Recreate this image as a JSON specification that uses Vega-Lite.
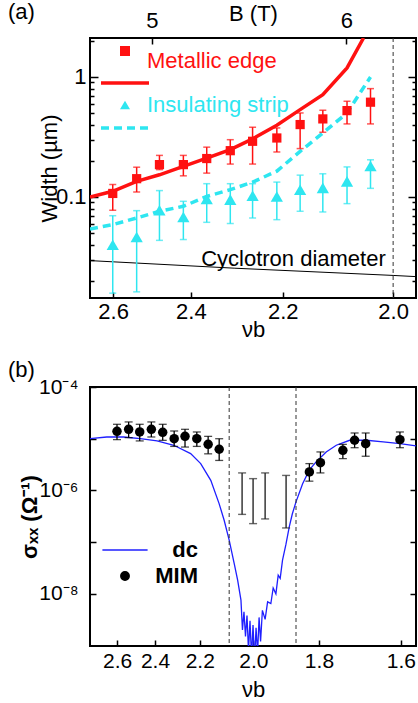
{
  "$schema": "https://vega.github.io/schema/vega-lite/v6.json",
  "padding": {"left": 7, "top": 0, "right": 0, "bottom": 0},
  "spacing": 17,
  "align": "each",
  "config": {
    "font": "Liberation Sans",
    "view": {"stroke": "black", "strokeWidth": 2},
    "axis": {"domain": false, "grid": false, "labelFont": "Liberation Sans", "labelFontSize": 22, "labelColor": "black", "titleFont": "Liberation Sans", "titleFontSize": 22, "titleFontWeight": "normal", "titleColor": "black", "tickColor": "black", "tickWidth": 1.5, "labelOverlap": false, "labelFlush": false},
    "legend": {"padding": 0, "labelFont": "Liberation Sans", "labelLimit": 400},
    "title": {"font": "Liberation Sans", "fontSize": 22, "fontWeight": "normal", "color": "black"}
  },
  "datasets": {
    "pts": [
      {"series": "Metallic edge", "nu": 2.601, "B": 4.798, "w": 0.107, "lo": 0.0775, "hi": 0.127},
      {"series": "Metallic edge", "nu": 2.536, "B": 4.919, "w": 0.142, "lo": 0.110, "hi": 0.177},
      {"series": "Metallic edge", "nu": 2.477, "B": 5.039, "w": 0.186, "lo": 0.169, "hi": 0.222},
      {"series": "Metallic edge", "nu": 2.418, "B": 5.160, "w": 0.186, "lo": 0.150, "hi": 0.222},
      {"series": "Metallic edge", "nu": 2.363, "B": 5.280, "w": 0.209, "lo": 0.158, "hi": 0.260},
      {"series": "Metallic edge", "nu": 2.310, "B": 5.401, "w": 0.243, "lo": 0.188, "hi": 0.300},
      {"series": "Metallic edge", "nu": 2.262, "B": 5.522, "w": 0.291, "lo": 0.188, "hi": 0.381},
      {"series": "Metallic edge", "nu": 2.212, "B": 5.642, "w": 0.310, "lo": 0.237, "hi": 0.376},
      {"series": "Metallic edge", "nu": 2.166, "B": 5.763, "w": 0.401, "lo": 0.253, "hi": 0.501},
      {"series": "Metallic edge", "nu": 2.123, "B": 5.883, "w": 0.447, "lo": 0.346, "hi": 0.528},
      {"series": "Metallic edge", "nu": 2.079, "B": 6.004, "w": 0.524, "lo": 0.406, "hi": 0.627},
      {"series": "Metallic edge", "nu": 2.038, "B": 6.125, "w": 0.616, "lo": 0.406, "hi": 0.799},
      {"series": "Insulating strip", "nu": 2.601, "w": 0.0400, "lo": 0.0158, "hi": 0.0698},
      {"series": "Insulating strip", "nu": 2.536, "w": 0.0464, "lo": 0.0162, "hi": 0.0769},
      {"series": "Insulating strip", "nu": 2.477, "w": 0.0775, "lo": 0.0435, "hi": 0.113},
      {"series": "Insulating strip", "nu": 2.418, "w": 0.0681, "lo": 0.0442, "hi": 0.092},
      {"series": "Insulating strip", "nu": 2.363, "w": 0.0962, "lo": 0.0615, "hi": 0.129},
      {"series": "Insulating strip", "nu": 2.310, "w": 0.095, "lo": 0.0601, "hi": 0.129},
      {"series": "Insulating strip", "nu": 2.262, "w": 0.1025, "lo": 0.0668, "hi": 0.129},
      {"series": "Insulating strip", "nu": 2.212, "w": 0.101, "lo": 0.0647, "hi": 0.133},
      {"series": "Insulating strip", "nu": 2.166, "w": 0.115, "lo": 0.076, "hi": 0.152},
      {"series": "Insulating strip", "nu": 2.123, "w": 0.119, "lo": 0.075, "hi": 0.156},
      {"series": "Insulating strip", "nu": 2.079, "w": 0.135, "lo": 0.088, "hi": 0.178},
      {"series": "Insulating strip", "nu": 2.038, "w": 0.181, "lo": 0.118, "hi": 0.204}
    ],
    "fitM": [
      {"nu": 2.666, "w": 0.100}, {"nu": 2.601, "w": 0.1115}, {"nu": 2.536, "w": 0.135}, {"nu": 2.477, "w": 0.153},
      {"nu": 2.418, "w": 0.180}, {"nu": 2.363, "w": 0.211}, {"nu": 2.310, "w": 0.248}, {"nu": 2.262, "w": 0.305},
      {"nu": 2.212, "w": 0.396}, {"nu": 2.166, "w": 0.534}, {"nu": 2.123, "w": 0.712}, {"nu": 2.079, "w": 1.19},
      {"nu": 2.050, "w": 2.11}
    ],
    "fitI": [
      {"nu": 2.666, "w": 0.0541}, {"nu": 2.601, "w": 0.0588}, {"nu": 2.536, "w": 0.0668}, {"nu": 2.477, "w": 0.076},
      {"nu": 2.418, "w": 0.0836}, {"nu": 2.363, "w": 0.101}, {"nu": 2.310, "w": 0.115}, {"nu": 2.262, "w": 0.133},
      {"nu": 2.212, "w": 0.164}, {"nu": 2.166, "w": 0.240}, {"nu": 2.123, "w": 0.341}, {"nu": 2.079, "w": 0.501},
      {"nu": 2.038, "w": 1.0}
    ],
    "cyc": [
      {"nu": 2.666, "w": 0.0295}, {"nu": 2.3, "w": 0.0255}, {"nu": 2.0, "w": 0.0222}, {"nu": 1.963, "w": 0.0217}
    ],
    "txtA": [{"nu": 2.179, "w": 0.0304, "label": "Cyclotron diameter"}],
    "ruleA": [{"nu": 2.0}],
    "ruleB": [{"nu": 2.0855}, {"nu": 1.8653}],
    "mim": [
      {"kind": "MIM", "nu": 2.601, "s": 1.39e-5, "lo": 9.6e-6, "hi": 1.90e-5},
      {"kind": "MIM", "nu": 2.536, "s": 1.52e-5, "lo": 1.05e-5, "hi": 2.11e-5},
      {"kind": "MIM", "nu": 2.477, "s": 1.35e-5, "lo": 9.06e-6, "hi": 1.90e-5},
      {"kind": "MIM", "nu": 2.418, "s": 1.52e-5, "lo": 1.08e-5, "hi": 2.11e-5},
      {"kind": "MIM", "nu": 2.363, "s": 1.33e-5, "lo": 9.3e-6, "hi": 1.90e-5},
      {"kind": "MIM", "nu": 2.310, "s": 1.0e-5, "lo": 7.1e-6, "hi": 1.41e-5},
      {"kind": "MIM", "nu": 2.262, "s": 1.11e-5, "lo": 6.9e-6, "hi": 1.52e-5},
      {"kind": "MIM", "nu": 2.212, "s": 1.0e-5, "lo": 7.1e-6, "hi": 1.35e-5},
      {"kind": "MIM", "nu": 2.166, "s": 7.8e-6, "lo": 5.1e-6, "hi": 1.11e-5},
      {"kind": "MIM", "nu": 2.123, "s": 6.25e-6, "lo": 3.8e-6, "hi": 1.0e-5},
      {"kind": "MIM", "nu": 1.8267, "s": 2.28e-6, "lo": 1.51e-6, "hi": 3.3e-6},
      {"kind": "MIM", "nu": 1.7960, "s": 3.44e-6, "lo": 2.18e-6, "hi": 5.55e-6},
      {"kind": "MIM", "nu": 1.7367, "s": 5.97e-6, "lo": 4.12e-6, "hi": 7.8e-6},
      {"kind": "MIM", "nu": 1.7072, "s": 9.33e-6, "lo": 6.7e-6, "hi": 1.29e-5},
      {"kind": "MIM", "nu": 1.6803, "s": 8.03e-6, "lo": 4.58e-6, "hi": 1.29e-5},
      {"kind": "MIM", "nu": 1.6022, "s": 9.6e-6, "lo": 6.7e-6, "hi": 1.35e-5}
    ],
    "gap": [
      {"nu": 2.039, "lo": 3.44e-7, "hi": 2.18e-6},
      {"nu": 2.001, "lo": 2.28e-7, "hi": 1.69e-6},
      {"nu": 1.961, "lo": 2.81e-7, "hi": 2.18e-6},
      {"nu": 1.895, "lo": 1.88e-7, "hi": 1.95e-6}
    ],
    "dc": [
      {"kind": "dc", "nu": 2.7655, "s": 1.0e-5}, {"kind": "dc", "nu": 2.661, "s": 1.08e-5}, {"kind": "dc", "nu": 2.564, "s": 1.08e-5},
      {"kind": "dc", "nu": 2.474, "s": 1.0e-5}, {"kind": "dc", "nu": 2.390, "s": 9.06e-6}, {"kind": "dc", "nu": 2.3115, "s": 7.47e-6},
      {"kind": "dc", "nu": 2.2379, "s": 5.14e-6}, {"kind": "dc", "nu": 2.196, "s": 3.3e-6}, {"kind": "dc", "nu": 2.1556, "s": 1.57e-6},
      {"kind": "dc", "nu": 2.1233, "s": 5.56e-7}, {"kind": "dc", "nu": 2.1042, "s": 2.65e-7}, {"kind": "dc", "nu": 2.0855, "s": 1.09e-7},
      {"kind": "dc", "nu": 2.0671, "s": 3.85e-8}, {"kind": "dc", "nu": 2.0548, "s": 1.84e-8}, {"kind": "dc", "nu": 2.043, "s": 7.55e-9},
      {"kind": "dc", "nu": 2.0377, "s": 2.0e-9}, {"kind": "dc", "nu": 2.0324, "s": 4.5e-9}, {"kind": "dc", "nu": 2.0271, "s": 1.5e-9},
      {"kind": "dc", "nu": 2.0219, "s": 3.8e-9}, {"kind": "dc", "nu": 2.0167, "s": 8e-10}, {"kind": "dc", "nu": 2.0115, "s": 3.0e-9},
      {"kind": "dc", "nu": 2.0063, "s": 6e-10}, {"kind": "dc", "nu": 2.0012, "s": 2.5e-9}, {"kind": "dc", "nu": 1.9961, "s": 5e-10},
      {"kind": "dc", "nu": 1.9910, "s": 2.2e-9}, {"kind": "dc", "nu": 1.9859, "s": 7e-10}, {"kind": "dc", "nu": 1.9809, "s": 3.5e-9},
      {"kind": "dc", "nu": 1.9759, "s": 1.2e-9}, {"kind": "dc", "nu": 1.9699, "s": 4.8e-9}, {"kind": "dc", "nu": 1.9610, "s": 3.2e-9},
      {"kind": "dc", "nu": 1.9529, "s": 7.0e-9}, {"kind": "dc", "nu": 1.9425, "s": 6.5e-9}, {"kind": "dc", "nu": 1.9351, "s": 1.3e-8},
      {"kind": "dc", "nu": 1.9265, "s": 1.0e-8}, {"kind": "dc", "nu": 1.9193, "s": 2.3e-8}, {"kind": "dc", "nu": 1.9131, "s": 2.0e-8},
      {"kind": "dc", "nu": 1.9059, "s": 4.5e-8}, {"kind": "dc", "nu": 1.8955, "s": 9e-8}, {"kind": "dc", "nu": 1.8854, "s": 1.97e-7},
      {"kind": "dc", "nu": 1.8763, "s": 3.5e-7}, {"kind": "dc", "nu": 1.8653, "s": 6.0e-7}, {"kind": "dc", "nu": 1.8460, "s": 1.35e-6},
      {"kind": "dc", "nu": 1.8267, "s": 2.49e-6}, {"kind": "dc", "nu": 1.8078, "s": 3.56e-6}, {"kind": "dc", "nu": 1.7804, "s": 5.55e-6},
      {"kind": "dc", "nu": 1.7537, "s": 7.47e-6}, {"kind": "dc", "nu": 1.7195, "s": 9.33e-6}, {"kind": "dc", "nu": 1.6785, "s": 9.33e-6},
      {"kind": "dc", "nu": 1.6395, "s": 8.65e-6}, {"kind": "dc", "nu": 1.6021, "s": 8.0e-6}, {"kind": "dc", "nu": 1.5679, "s": 7.24e-6}
    ]
  },
  "vconcat": [
    {
      "width": 326,
      "height": 260,
      "title": {"text": "(a)", "anchor": "start", "frame": "group", "dx": -82, "dy": 22, "offset": 0},
      "layer": [
        {
          "layer": [
            {
              "data": {"name": "cyc"},
              "mark": {"type": "line", "color": "black", "strokeWidth": 1, "clip": true},
              "encoding": {
                "x": {"field": "nu", "type": "quantitative",
                  "scale": {"type": "pow", "exponent": -1, "domain": [2.666, 1.963], "nice": false, "zero": false},
                  "axis": {"orient": "bottom", "values": [2.6, 2.4, 2.2, 2.0], "format": ".1f", "tickSize": -6, "labelPadding": 9, "title": "νb", "titlePadding": -3}},
                "y": {"field": "w", "type": "quantitative", "title": "Width (µm)",
                  "scale": {"type": "log", "domain": [0.0144, 2.11], "nice": false},
                  "axis": {"orient": "left", "values": [0.02, 0.03, 0.04, 0.05, 0.06, 0.07, 0.08, 0.09, 0.1, 0.2, 0.3, 0.4, 0.5, 0.6, 0.7, 0.8, 0.9, 1, 2],
                    "labelExpr": "datum.value == 1 ? '1' : datum.value == 0.1 ? '0.1' : ''",
                    "tickSize": {"condition": {"test": "datum.value == 1 || datum.value == 0.1", "value": -8}, "value": -4},
                    "labelPadding": 12, "title": "Width (µm)", "titlePadding": -6}}
              }
            },
            {
              "data": {"name": "fitM"},
              "mark": {"type": "line", "color": "#ff1111", "strokeWidth": 3.5, "clip": true},
              "encoding": {"x": {"field": "nu", "type": "quantitative"}, "y": {"field": "w", "type": "quantitative", "title": "Width (µm)"}}
            },
            {
              "data": {"name": "fitI"},
              "mark": {"type": "line", "color": "#2ee6f0", "strokeWidth": 3.5, "strokeDash": [8, 5], "clip": true},
              "encoding": {"x": {"field": "nu", "type": "quantitative"}, "y": {"field": "w", "type": "quantitative", "title": "Width (µm)"}}
            },
            {
              "data": {"name": "ruleA"},
              "mark": {"type": "rule", "strokeDash": [4, 3], "color": "#333333", "strokeWidth": 1},
              "encoding": {"x": {"field": "nu", "type": "quantitative"}}
            },
            {
              "data": {"name": "pts"},
              "transform": [{"filter": "datum.series == 'Metallic edge'"}],
              "mark": {"type": "errorbar", "ticks": true, "thickness": 1.5, "size": 7, "color": "#ff1111"},
              "encoding": {"x": {"field": "nu", "type": "quantitative"}, "y": {"field": "lo", "type": "quantitative", "title": "Width (µm)"}, "y2": {"field": "hi"}}
            },
            {
              "data": {"name": "pts"},
              "transform": [{"filter": "datum.series == 'Insulating strip'"}],
              "mark": {"type": "errorbar", "ticks": true, "thickness": 1.5, "size": 7, "color": "#2ee6f0"},
              "encoding": {"x": {"field": "nu", "type": "quantitative"}, "y": {"field": "lo", "type": "quantitative", "title": "Width (µm)"}, "y2": {"field": "hi"}}
            },
            {
              "data": {"name": "pts"},
              "transform": [{"filter": "datum.series == 'Metallic edge'"}],
              "mark": {"type": "point", "filled": true, "opacity": 1, "size": 85},
              "encoding": {
                "x": {"field": "nu", "type": "quantitative"},
                "y": {"field": "w", "type": "quantitative", "title": "Width (µm)"},
                "color": {"field": "series", "type": "nominal",
                  "scale": {"domain": ["Metallic edge", "Metallic fit", "Insulating strip", "Insulating fit"], "range": ["#ff1111", "#ff1111", "#2ee6f0", "#2ee6f0"]},
                  "legend": {"orient": "none", "legendX": 24, "legendY": 2, "title": null, "labelFontSize": 22, "symbolSize": 100, "rowPadding": -2, "labelOffset": 11,
                    "labelExpr": "datum.label == 'Metallic fit' || datum.label == 'Insulating fit' ? '' : datum.label",
                    "labelColor": {"expr": "datum.value == 'Metallic edge' ? '#ff1111' : '#2ee6f0'"},
                    "labelBaseline": {"expr": "datum.value == 'Metallic edge' ? 'top' : 'middle'"},
                    "symbolStrokeColor": {"expr": "datum.value == 'Metallic fit' ? '#ff1111' : datum.value == 'Insulating fit' ? '#2ee6f0' : 'transparent'"},
                    "symbolStrokeWidth": 3.5,
                    "symbolDash": {"expr": "datum.value == 'Insulating fit' ? [8, 5] : [1, 0]"},
                    "symbolOpacity": 1}},
                "shape": {"field": "series", "type": "nominal",
                  "scale": {"domain": ["Metallic edge", "Metallic fit", "Insulating strip", "Insulating fit"], "range": ["square", "M-4.8,0H4.8", "triangle-up", "M-4.8,0H4.8"]}}
              }
            },
            {
              "data": {"name": "pts"},
              "transform": [{"filter": "datum.series == 'Insulating strip'"}],
              "mark": {"type": "point", "filled": true, "opacity": 1, "size": 150},
              "encoding": {
                "x": {"field": "nu", "type": "quantitative"},
                "y": {"field": "w", "type": "quantitative", "title": "Width (µm)"},
                "color": {"field": "series", "type": "nominal"},
                "shape": {"field": "series", "type": "nominal"}
              }
            },
            {
              "data": {"name": "txtA"},
              "mark": {"type": "text", "fontSize": 22, "font": "Liberation Sans", "color": "black", "align": "center", "baseline": "middle"},
              "encoding": {"x": {"field": "nu", "type": "quantitative"}, "y": {"field": "w", "type": "quantitative", "title": "Width (µm)"}, "text": {"field": "label"}}
            }
          ]
        },
        {
          "data": {"name": "pts"},
          "transform": [{"filter": "datum.series == 'Metallic edge'"}],
          "mark": {"type": "point", "opacity": 0},
          "encoding": {
            "x": {"field": "B", "type": "quantitative",
              "scale": {"domain": [4.681, 6.359], "nice": false, "zero": false},
              "axis": {"orient": "top", "values": [5, 6], "tickSize": -6, "labelPadding": 12, "title": "B (T)", "titlePadding": -16}},
            "y": {"field": "w", "type": "quantitative",
              "scale": {"type": "log", "domain": [0.0144, 2.11], "nice": false},
              "axis": {"orient": "right", "values": [0.02, 0.03, 0.04, 0.05, 0.06, 0.07, 0.08, 0.09, 0.1, 0.2, 0.3, 0.4, 0.5, 0.6, 0.7, 0.8, 0.9, 1, 2],
                "labels": false, "title": null,
                "tickSize": {"condition": {"test": "datum.value == 1 || datum.value == 0.1", "value": -8}, "value": -4}}}
          }
        }
      ],
      "resolve": {"scale": {"x": "independent"}, "axis": {"x": "independent", "y": "independent"}}
    },
    {
      "width": 326,
      "height": 259,
      "title": {"text": "(b)", "anchor": "start", "frame": "group", "dx": -82, "offset": -6},
      "layer": [
        {
          "layer": [
            {
              "data": {"name": "dc"},
              "mark": {"type": "line", "strokeWidth": 1.3, "clip": true},
              "encoding": {
                "x": {"field": "nu", "type": "quantitative",
                  "scale": {"type": "pow", "exponent": -1, "domain": [2.7655, 1.568], "nice": false, "zero": false},
                  "axis": {"orient": "bottom", "values": [2.6, 2.4, 2.2, 2.0, 1.8, 1.6], "format": ".1f", "tickSize": -6, "labelPadding": 10, "labelFontSize": 21, "title": "νb", "titlePadding": 8}},
                "y": {"field": "s", "type": "quantitative", "title": "σₓₓ (Ω⁻¹)",
                  "scale": {"type": "log", "domain": [9.8e-10, 1e-4], "nice": false},
                  "axis": {"orient": "left", "values": [1e-8, 1e-7, 1e-6, 1e-5, 1e-4],
                    "labelExpr": "datum.value == 1e-4 ? '10⁻⁴' : datum.value == 1e-6 ? '10⁻⁶' : datum.value == 1e-8 ? '10⁻⁸' : ''",
                    "tickSize": -6, "labelPadding": 18, "labelFontSize": 21, "title": "σₓₓ (Ω⁻¹)", "titleFontWeight": "bold", "titlePadding": -3}},
                "color": {"field": "kind", "type": "nominal",
                  "scale": {"domain": ["dc", "MIM"], "range": ["#1f1fff", "black"]},
                  "legend": {"orient": "none", "legendX": 24, "legendY": 152, "title": null, "labelFontSize": 22, "labelFontWeight": "bold", "labelAlign": "right", "labelOffset": 62, "symbolSize": 70, "rowPadding": 4,
                    "symbolStrokeColor": {"expr": "datum.value == 'dc' ? '#1f1fff' : 'transparent'"},
                    "symbolStrokeWidth": 1.5, "symbolOpacity": 1}}
              }
            },
            {
              "data": {"name": "ruleB"},
              "mark": {"type": "rule", "strokeDash": [4, 3], "color": "#333333", "strokeWidth": 1},
              "encoding": {"x": {"field": "nu", "type": "quantitative"}}
            },
            {
              "data": {"name": "gap"},
              "mark": {"type": "errorbar", "ticks": true, "thickness": 1.4, "size": 8, "color": "#2a2a2a"},
              "encoding": {"x": {"field": "nu", "type": "quantitative"}, "y": {"field": "lo", "type": "quantitative", "title": "σₓₓ (Ω⁻¹)"}, "y2": {"field": "hi"}}
            },
            {
              "data": {"name": "mim"},
              "mark": {"type": "errorbar", "ticks": true, "thickness": 1.3, "size": 8, "color": "black"},
              "encoding": {"x": {"field": "nu", "type": "quantitative"}, "y": {"field": "lo", "type": "quantitative", "title": "σₓₓ (Ω⁻¹)"}, "y2": {"field": "hi"}}
            },
            {
              "data": {"name": "mim"},
              "mark": {"type": "point", "filled": true, "opacity": 1, "size": 90},
              "encoding": {
                "x": {"field": "nu", "type": "quantitative"},
                "y": {"field": "s", "type": "quantitative", "title": "σₓₓ (Ω⁻¹)"},
                "color": {"field": "kind", "type": "nominal"},
                "shape": {"field": "kind", "type": "nominal", "scale": {"domain": ["dc", "MIM"], "range": ["M-5.4,0H5.4", "circle"]}}
              }
            }
          ]
        },
        {
          "data": {"name": "mim"},
          "mark": {"type": "point", "opacity": 0},
          "encoding": {
            "x": {"field": "nu", "type": "quantitative"},
            "y": {"field": "s", "type": "quantitative",
              "scale": {"type": "log", "domain": [9.8e-10, 1e-4], "nice": false},
              "axis": {"orient": "right", "values": [1e-8, 1e-7, 1e-6, 1e-5], "labels": false, "title": null, "tickSize": -6}}
          }
        }
      ],
      "resolve": {"axis": {"y": "independent"}}
    }
  ],
  "resolve": {"scale": {"x": "independent", "y": "independent", "color": "independent", "shape": "independent"}, "legend": {"color": "independent", "shape": "independent"}}
}
